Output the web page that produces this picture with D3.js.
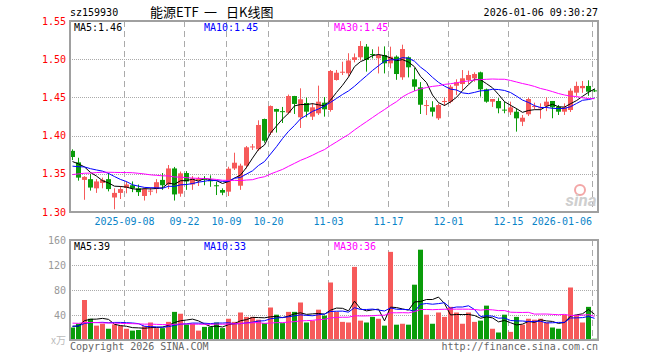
<!DOCTYPE html>
<html>
<head>
<meta charset="UTF-8">
<script src="https://cdn.jsdelivr.net/npm/d3@7"></script>
<style>
	body { margin: 0; background: #fff; }
	text { font-family: "DejaVu Sans Mono", monospace; font-size: 10px; }
	.grid-h { stroke: #aaa; stroke-dasharray: 1,1; }
	.grid-v { stroke: #aaa; stroke-dasharray: 6,4; }
	.frame { fill: none; stroke: #a0a0a0; stroke-width: 2; }
	.cjk { font-family: "Noto Sans CJK SC", sans-serif; font-size: 13px; }
</style>
</head>
<body>
<script>
// trading days shown
const dates = [
	'2025-08-26','2025-08-27','2025-08-28','2025-08-29',
	'2025-09-01','2025-09-02','2025-09-03','2025-09-04','2025-09-05','2025-09-08','2025-09-09','2025-09-10','2025-09-11','2025-09-12',
	'2025-09-15','2025-09-16','2025-09-17','2025-09-18','2025-09-19','2025-09-22','2025-09-23','2025-09-24','2025-09-25','2025-09-26',
	'2025-09-29','2025-09-30',
	'2025-10-09','2025-10-10','2025-10-13','2025-10-14','2025-10-15','2025-10-16','2025-10-17','2025-10-20','2025-10-21','2025-10-22',
	'2025-10-23','2025-10-24','2025-10-27','2025-10-28','2025-10-29','2025-10-30','2025-10-31',
	'2025-11-03','2025-11-04','2025-11-05','2025-11-06','2025-11-07','2025-11-10','2025-11-11','2025-11-12','2025-11-13','2025-11-14',
	'2025-11-17','2025-11-18','2025-11-19','2025-11-20','2025-11-21','2025-11-24','2025-11-25','2025-11-26','2025-11-27','2025-11-28',
	'2025-12-01','2025-12-02','2025-12-03','2025-12-04','2025-12-05','2025-12-08','2025-12-09','2025-12-10','2025-12-11','2025-12-12',
	'2025-12-15','2025-12-16','2025-12-17','2025-12-18','2025-12-19','2025-12-22','2025-12-23','2025-12-24','2025-12-25','2025-12-26',
	'2025-12-29','2025-12-30','2025-12-31','2026-01-05','2026-01-06'
];

const open = [1.380,1.365,1.342,1.343,1.331,1.338,1.343,1.319,1.325,1.3315,1.335,1.331,1.321,1.327,1.330,1.342,1.336,1.357,1.324,1.351,
	1.336,1.341,1.344,1.3415,1.335,1.3288,1.3266,1.357,1.3344,1.3607,1.385,1.3821,1.4217,1.4038,1.4348,1.432,1.430,1.4518,1.424,1.4427,
	1.4248,1.4292,1.4431,1.4335,1.4728,1.483,1.4815,1.499,1.5025,1.5164,1.5068,1.5012,1.5055,1.4946,1.5033,1.4763,1.5025,1.4737,1.4632,1.4395,
	1.437,1.4226,1.445,1.4444,1.4653,1.4675,1.4728,1.475,1.4828,1.4606,1.4444,1.4453,1.434,1.4305,1.4313,1.4182,1.4279,1.4383,1.4366,1.4387,
	1.4453,1.4378,1.4313,1.4335,1.4562,1.462,1.465,1.4592];
const high = [1.382,1.371,1.347,1.350,1.343,1.345,1.351,1.331,1.334,1.340,1.340,1.336,1.332,1.3323,1.343,1.351,1.3615,1.359,1.353,1.3535,
	1.347,1.346,1.347,1.348,1.3397,1.331,1.3593,1.3776,1.3632,1.3864,1.389,1.420,1.4222,1.4395,1.4352,1.4375,1.4537,1.452,1.4619,1.4497,
	1.4427,1.4654,1.4505,1.4859,1.4859,1.4967,1.5078,1.5075,1.5237,1.5198,1.513,1.5165,1.5168,1.5164,1.505,1.519,1.5037,1.4886,1.470,1.4465,
	1.445,1.442,1.450,1.4662,1.4737,1.4858,1.485,1.4828,1.4837,1.4615,1.4479,1.449,1.4444,1.4444,1.4357,1.427,1.4497,1.4431,1.4422,1.4501,
	1.4453,1.440,1.4422,1.4618,1.4706,1.4715,1.4724,1.4615];
const low = [1.368,1.341,1.316,1.328,1.325,1.331,1.327,1.3035,1.317,1.3245,1.326,1.321,1.315,1.322,1.3245,1.329,1.330,1.315,1.320,1.329,
	1.329,1.334,1.335,1.333,1.3222,1.322,1.3209,1.355,1.329,1.357,1.3812,1.380,1.3908,1.4008,1.404,1.4165,1.428,1.4283,1.410,1.424,
	1.4204,1.427,1.4248,1.4313,1.472,1.4793,1.478,1.4959,1.4985,1.4837,1.501,1.4814,1.4814,1.488,1.473,1.473,1.4762,1.4585,1.4283,1.4269,
	1.425,1.4204,1.4388,1.4422,1.4531,1.4593,1.4675,1.4705,1.451,1.443,1.4375,1.4292,1.4292,1.427,1.4052,1.4125,1.4257,1.4343,1.4222,1.432,
	1.4227,1.427,1.427,1.4309,1.452,1.456,1.452,1.457];
const close = [1.372,1.345,1.346,1.332,1.340,1.342,1.330,1.325,1.330,1.336,1.331,1.326,1.330,1.328,1.339,1.335,1.357,1.323,1.3506,1.340,
	1.344,1.344,1.342,1.341,1.3344,1.3253,1.3567,1.3645,1.3607,1.3847,1.3858,1.4139,1.3933,1.4387,1.4313,1.4313,1.4518,1.4414,1.4475,1.4313,
	1.437,1.4444,1.4344,1.4846,1.4823,1.4836,1.4983,1.5025,1.5173,1.499,1.5064,1.5055,1.4946,1.5033,1.4806,1.5133,1.4894,1.464,1.4404,1.440,
	1.4313,1.440,1.4453,1.464,1.4698,1.475,1.4793,1.4806,1.4606,1.4444,1.4479,1.4357,1.4335,1.437,1.4226,1.4234,1.4479,1.4387,1.437,1.4444,
	1.437,1.4313,1.437,1.4588,1.465,1.465,1.4575,1.4588];
// volume, 万
const volume = [20,26,64,34,23,26,18,25,23,18,15,16,22,28,19,19,29,45,42,25,
	26,15,21,21,28,19,34,29,44,37,37,32.5,27,52,40.5,27,45,45,60,28,
	31,48.5,39,92,45,29,28,117,31,28,37,34,23,141,24.5,26,24.5,88.5,144.5,40.5,
	26,44,37,53,44,26,44,29,31,55,18,12,40.5,13,37,24.5,34,32.5,34,28,
	20,18,40.5,84,39,28,53,2];
// closes and volumes of the 29 sessions before the first one, needed for the averages
const earlierClose = [1.318,1.322,1.325,1.320,1.328,1.332,1.330,1.335,1.338,1.336,
	1.350,1.356,1.362,1.358,1.355,1.360,1.364,1.357,1.361,1.363,
	1.352,1.349,1.355,1.357,1.357,1.360,1.366,1.368,1.364];
const earlierVolume = [35,28,31,26,40,24,30,33,27,22,29,34,25,31,28,36,24,27,30,29,21,24,20,23,22,25,20,23,22];

const priceTicks = [1.30,1.35,1.40,1.45,1.50,1.55];
const volTicks = [40,80,120,160];
const tickDates = ['2025-09-08','2025-09-22','2025-10-09','2025-10-20','2025-11-03','2025-11-17','2025-12-01','2025-12-15','2026-01-06'];
const tickLabels = ['2025-09-08','09-22','10-09','10-20','11-03','11-17','12-01','12-15','2026-01-06'];
const maPeriods = [5,10,30];
const maColors = ['#000','#00f','#f0f'];
const priceMaNow = ['1.46','1.45','1.45'];
const volMaNow = ['39','33','36'];

const W = 660, H = 360;
const left = 70, right = 598;
const red = '#f65a5a', green = '#0a9c0a';

const svg = d3.select('body').append('svg').attr('width', W).attr('height', H);

const x = d3.scaleLinear().domain([0, dates.length - 1]).range([72.5, 594.5]);
const y = d3.scaleLinear().domain([1.30, 1.55]).range([212, 21]);
const yv = d3.scaleLinear().domain([0, 160]).range([340, 240]);

function movingAvg(vals, prior, n) {
	const all = prior.concat(vals);
	return vals.map((v, i) => {
		const end = prior.length + i + 1;
		return d3.mean(all.slice(end - n, end));
	});
}

// header
svg.append('text').attr('x', 70).attr('y', 16).attr('fill', '#000').text('sz159930');
svg.append('text').attr('class', 'cjk').attr('x', 150).attr('y', 17).text('能源ETF');
svg.append('text').attr('class', 'cjk').attr('x', 204).attr('y', 17).text('一');
svg.append('text').attr('class', 'cjk').attr('x', 226).attr('y', 17).text('日K线图');
svg.append('text').attr('x', right).attr('y', 16).attr('text-anchor', 'end').attr('fill', '#000').text('2026-01-06 09:30:27');

// grids
const tickIdx = tickDates.map(d => dates.indexOf(d));
function vGrid(top, bottom) {
	svg.append('g').selectAll('line').data(tickIdx).join('line')
		.attr('class', 'grid-v')
		.attr('x1', i => x(i) - 2).attr('x2', i => x(i) - 2)
		.attr('y1', top).attr('y2', bottom);
}
vGrid(21, 212);
vGrid(240, 340);

svg.append('g').selectAll('line').data(priceTicks.slice(1, -1)).join('line')
	.attr('class', 'grid-h')
	.attr('x1', left).attr('x2', right)
	.attr('y1', d => Math.round(y(d)) + 0.5).attr('y2', d => Math.round(y(d)) + 0.5);
svg.append('g').selectAll('line').data(volTicks.slice(0, -1)).join('line')
	.attr('class', 'grid-h')
	.attr('x1', left).attr('x2', right)
	.attr('y1', d => Math.round(yv(d)) + 0.5).attr('y2', d => Math.round(yv(d)) + 0.5);

// axis labels
svg.append('g').selectAll('text').data(priceTicks).join('text')
	.attr('x', 66).attr('y', d => y(d)).attr('dy', '0.35em')
	.attr('text-anchor', 'end').attr('fill', '#f00')
	.text(d => d.toFixed(2));
svg.append('g').selectAll('text').data(volTicks).join('text')
	.attr('x', 66).attr('y', d => yv(d)).attr('dy', '0.35em')
	.attr('text-anchor', 'end').attr('fill', '#999')
	.text(d => d);
svg.append('text').attr('x', 66).attr('y', 344).attr('text-anchor', 'end').attr('fill', '#bbb')
	.style('font-family', '"Noto Sans CJK SC", sans-serif').text('x万');
// date labels centred on their gridline, kept inside the frame
svg.append('g').selectAll('text').data(tickIdx).join('text')
	.attr('x', i => x(i) - 2).attr('y', 225)
	.attr('text-anchor', 'middle').attr('fill', '#0a84c8')
	.text((d, k) => tickLabels[k])
	.each(function () {
		const b = this.getBBox();
		if (b.x + b.width > right - 6) d3.select(this).attr('x', +d3.select(this).attr('x') - (b.x + b.width - (right - 6)));
	});

// sina mark
svg.append('circle').attr('cx', 580).attr('cy', 190).attr('r', 5)
	.attr('fill', 'none').attr('stroke', '#f3a6a6').attr('stroke-width', 2);
svg.append('text').attr('x', 581).attr('y', 206).attr('text-anchor', 'middle')
	.attr('fill', '#cfcfcf').style('font-family', 'Roboto, sans-serif')
	.style('font-size', '17px').style('font-style', 'italic').style('font-weight', 'bold')
	.text('sina');

// candles
const candles = svg.append('g').selectAll('g').data(dates.map((d, i) => i)).join('g')
	.attr('fill', i => close[i] >= open[i] ? red : green)
	.attr('stroke', i => close[i] >= open[i] ? red : green);
candles.append('line')
	.attr('x1', i => x(i)).attr('x2', i => x(i))
	.attr('y1', i => y(high[i])).attr('y2', i => y(low[i]));
candles.append('rect')
	.attr('stroke', 'none')
	.attr('x', i => x(i) - 2.5).attr('width', 5)
	.attr('y', i => y(Math.max(open[i], close[i])))
	.attr('height', i => Math.max(1, Math.abs(y(open[i]) - y(close[i]))));

// volume bars
svg.append('g').selectAll('rect').data(volume).join('rect')
	.attr('x', (d, i) => x(i) - 2.5).attr('width', 5)
	.attr('y', d => yv(d)).attr('height', d => yv(0) - yv(d))
	.attr('fill', (d, i) => close[i] >= open[i] ? red : green);

// moving averages
maPeriods.forEach((n, k) => {
	const pm = movingAvg(close, earlierClose, n);
	svg.append('path').datum(pm)
		.attr('fill', 'none').attr('stroke', maColors[k]).attr('stroke-width', 1)
		.attr('d', d3.line().x((d, i) => x(i)).y(d => y(d)));
	const vm = movingAvg(volume, earlierVolume, n);
	svg.append('path').datum(vm)
		.attr('fill', 'none').attr('stroke', maColors[k]).attr('stroke-width', 1)
		.attr('d', d3.line().x((d, i) => x(i)).y(d => yv(d)));
});

// frames
svg.append('rect').attr('class', 'frame').attr('x', left).attr('y', 21).attr('width', right - left).attr('height', 191);
svg.append('rect').attr('class', 'frame').attr('x', left).attr('y', 240).attr('width', right - left).attr('height', 100);

// legends
const lx = [74, 204, 334];
maPeriods.forEach((n, k) => {
	svg.append('text').attr('x', lx[k]).attr('y', 31).attr('fill', maColors[k]).text('MA' + n + ':' + priceMaNow[k]);
	svg.append('text').attr('x', lx[k]).attr('y', 250).attr('fill', maColors[k]).text('MA' + n + ':' + volMaNow[k]);
});

// footer
svg.append('text').attr('x', 70).attr('y', 350).attr('fill', '#666').text('Copyright 2026 SINA.COM');
svg.append('text').attr('x', right).attr('y', 350).attr('text-anchor', 'end').attr('fill', '#666').text('http://finance.sina.com.cn');
</script>
</body>
</html>
